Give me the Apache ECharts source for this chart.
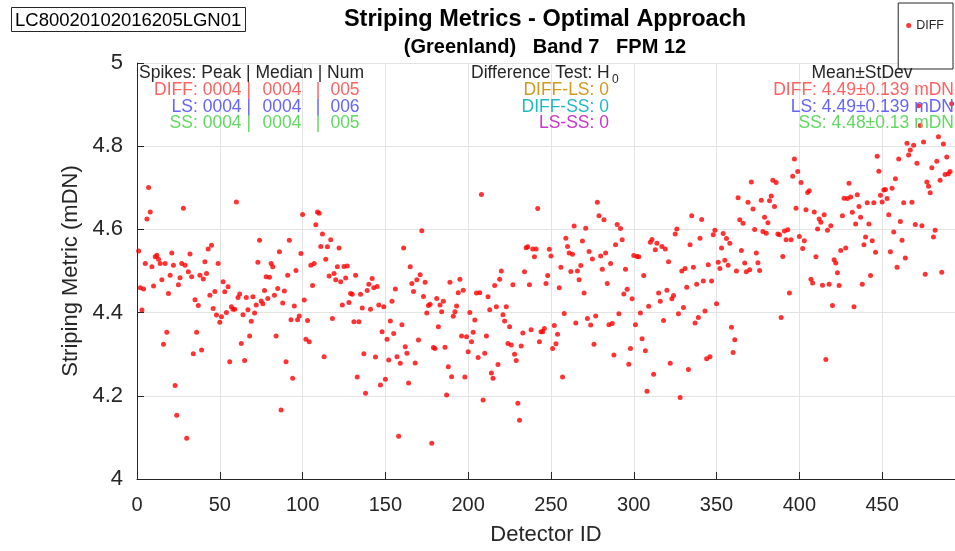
<!DOCTYPE html>
<html>
<head>
<meta charset="utf-8">
<title>Striping Metrics - Optimal Approach</title>
<script src="https://cdn.jsdelivr.net/npm/echarts@6.0.0/dist/echarts.min.js"></script>
<style>
    html, body { margin: 0; padding: 0; background: #fff; }
    #stripingChart { width: 955px; height: 551px; }
</style>
</head>
<body>
<div id="stripingChart"></div>
<script>
// striping metric per detector (DIFF), detector ids run 1..N
var diffMetric = [
    4.548,4.46,4.406,4.457,4.518,4.625,4.701,4.642,4.51,4.464,
    4.534,4.538,4.528,4.518,4.479,4.324,4.518,4.353,4.446,4.49,
    4.543,4.514,4.225,4.153,4.467,4.484,4.518,4.651,4.514,4.098,
    4.498,4.541,4.486,4.301,4.431,4.353,4.417,4.49,4.31,4.481,
    4.522,4.494,4.553,4.442,4.562,4.41,4.451,4.394,4.518,4.377,
    4.39,4.474,4.45,4.4,4.462,4.282,4.414,4.408,4.408,4.666,4.436,
    4.445,4.326,4.395,4.285,4.436,4.407,4.344,4.379,4.438,4.399,
    4.418,4.521,4.574,4.428,4.421,4.453,4.486,4.434,4.485,4.518,
    4.51,4.442,4.344,4.458,4.546,4.166,4.423,4.452,4.282,4.49,
    4.574,4.383,4.242,4.416,4.501,4.383,4.392,4.542,4.636,4.43,
    4.336,4.381,4.33,4.514,4.465,4.518,4.611,4.642,4.639,4.559,
    4.589,4.294,4.528,4.558,4.488,4.575,4.386,4.494,4.479,4.51,
    4.555,4.474,
    4.418,4.511,4.483,4.512,4.424,4.446,4.444,4.378,4.49,4.245,
    4.378,4.444,4.411,4.301,4.206,4.453,4.468,4.408,4.482,4.46,
    4.293,4.463,4.418,4.226,4.354,4.414,4.24,4.336,4.286,4.38,
    4.427,4.35,4.457,4.294,4.103,4.278,4.371,4.555,4.318,4.302,
    4.231,4.51,4.47,4.451,4.279,4.479,4.334,4.491,4.597,4.439,
    4.473,4.399,4.417,4.42,4.086,4.316,4.314,4.434,4.366,4.418,
    4.402,
    4.427,4.317,4.202,4.27,4.473,4.246,4.391,4.402,4.416,4.448,
    4.48,4.344,4.454,4.245,4.342,4.306,4.4,4.33,4.353,4.382,
    4.447,4.292,4.448,4.684,4.19,4.302,4.344,4.438,4.407,4.255,
    4.242,4.465,4.414,4.275,4.48,4.5,4.395,4.38,4.414,4.326,
    4.366,4.322,4.467,4.3,4.285,4.182,4.141,4.32,4.351,4.498,
    4.556,4.558,4.467,4.359,4.553,4.534,4.553,4.65,4.33,4.354,
    4.354,
    4.362,4.47,4.489,4.552,4.536,4.314,4.369,4.325,4.348,4.46,
    4.509,4.245,4.398,4.579,4.559,4.543,4.499,4.54,4.608,4.375,
    4.5,4.479,4.513,4.572,4.447,4.603,4.386,4.547,4.37,4.529,
    4.324,4.392,4.665,4.633,4.536,4.504,4.623,4.543,4.47,4.371,
    4.518,4.374,4.298,4.563,4.612,4.397,4.602,4.575,4.445,4.504,
    4.456,4.276,4.314,4.433,4.537,4.371,4.535,4.534,4.399,4.337,
    4.489,4.308,4.211,
    4.415,4.569,4.576,4.252,4.551,4.567,4.447,4.427,4.559,4.381,
    4.553,4.454,4.522,4.278,4.433,4.441,4.589,4.601,4.397,4.196,
    4.5,4.412,4.506,4.461,4.263,4.563,4.633,4.509,4.375,4.468,
    4.388,4.579,4.624,4.476,4.404,4.289,4.515,4.294,4.476,4.587,
    4.598,4.421,4.521,4.506,4.555,4.59,4.526,4.578,4.514,4.567,
    4.365,4.304,4.335,4.5,4.676,4.623,4.549,4.615,4.519,4.498,
    4.665,
    4.503,4.714,4.649,4.6,4.543,4.52,4.501,4.67,4.595,4.629,
    4.591,4.616,4.669,4.68,4.718,4.655,4.713,4.589,4.587,4.388,
    4.535,4.596,4.575,4.599,4.447,4.575,4.728,4.769,4.651,4.739,
    4.583,4.713,4.554,4.573,4.647,4.689,4.693,4.48,4.471,4.642,
    4.534,4.601,4.625,4.617,4.466,4.635,4.287,4.598,4.468,4.609,
    4.417,4.527,4.519,4.496,4.465,4.549,4.633,4.675,4.555,4.674,
    4.711,
    4.678,4.641,4.414,4.613,4.683,4.655,4.629,4.468,4.563,4.582,
    4.664,4.613,4.489,4.573,4.664,4.545,4.776,4.74,4.682,4.666,
    4.695,4.696,4.674,4.635,4.546,4.699,4.594,4.722,4.509,4.769,
    4.619,4.574,4.664,4.531,4.807,4.779,4.791,4.665,4.802,4.612,
    4.759,4.897,4.85,4.609,4.81,4.492,4.714,4.704,4.688,4.748,
    4.582,4.598,4.764,4.823,4.718,4.497,4.805,4.732,4.774,4.734,
    4.739,4.902
]

// annotation tables
var methodNames = ['DIFF', 'LS', 'SS']
var methodColors = ['#ff6161', '#6464ff', '#62d862']
var spikePeak = ['0004', '0004', '0004']
var spikeMedian = ['0004', '0004', '0004']
var spikeNum = ['005', '006', '005']
var h0Pairs = ['DIFF-LS', 'DIFF-SS', 'LS-SS']
var h0Values = [0, 0, 0]
var h0Colors = ['#d09a1c', '#1fb8c6', '#c936c9']
var meanValues = ['4.49', '4.49', '4.48']
var stdValues = ['0.139', '0.139', '0.13']

var FONT = '"Liberation Sans", Arial, Helvetica, sans-serif'
var TEXT_COLOR = '#262626'

function txt(x, y, text, color, align, size) {
    return {
        type: 'text',
        x: x,
        y: y,
        z: 100,
        silent: true,
        style: {
            text: text,
            fill: color,
            fontSize: size || 17.5,
            fontFamily: FONT,
            align: align || 'left',
            verticalAlign: 'middle'
        }
    }
}

var rowY = [90, 107, 123]
var graphics = []
graphics.push(txt(139, 73, 'Spikes: Peak | Median | Num', TEXT_COLOR, 'left'))
graphics.push(txt(471, 73, 'Difference Test: H', TEXT_COLOR, 'left'))
graphics.push(txt(612, 80, '0', TEXT_COLOR, 'left', 12))
graphics.push(txt(862, 73, 'Mean\u00b1StDev', TEXT_COLOR, 'center'))
methodNames.forEach(function (m, i) {
    var c = methodColors[i]
    graphics.push(txt(251, rowY[i], m + ': ' + spikePeak[i] + ' |', c, 'right'))
    graphics.push(txt(282, rowY[i], spikeMedian[i], c, 'center'))
    graphics.push(txt(318, rowY[i], '|', c, 'center'))
    graphics.push(txt(345, rowY[i], spikeNum[i], c, 'center'))
    graphics.push(txt(609, rowY[i], h0Pairs[i] + ': ' + h0Values[i], h0Colors[i], 'right'))
    graphics.push(txt(954, rowY[i], m + ': ' + meanValues[i] + '\u00b1' + stdValues[i] + ' mDN', c, 'right'))
})

var chart = echarts.init(document.getElementById('stripingChart'))
chart.setOption({
    animation: false,
    backgroundColor: '#fff',
    textStyle: { fontFamily: FONT },
    title: [
        {
            text: 'LC80020102016205LGN01',
            left: 11,
            top: 7,
            padding: [4, 4, 2, 4],
            borderWidth: 1,
            borderColor: TEXT_COLOR,
            textStyle: { fontSize: 18.5, fontWeight: 'normal', color: '#000', fontFamily: FONT }
        },
        {
            text: 'Striping Metrics - Optimal Approach',
            left: 545,
            top: 8,
            textAlign: 'center',
            padding: 0,
            textStyle: { fontSize: 23.5, fontWeight: 'bold', color: '#000', fontFamily: FONT }
        },
        {
            text: '(Greenland)   Band 7   FPM 12',
            left: 545,
            top: 37,
            textAlign: 'center',
            padding: 0,
            textStyle: { fontSize: 20, fontWeight: 'bold', color: '#000', fontFamily: FONT }
        }
    ],
    legend: {
        data: ['DIFF'],
        right: 2,
        top: 3,
        orient: 'vertical',
        icon: 'circle',
        itemWidth: 5,
        itemHeight: 5,
        padding: [16, 9, 37, 8],
        borderWidth: 1,
        borderColor: TEXT_COLOR,
        backgroundColor: '#fff',
        textStyle: { fontSize: 12.5, color: TEXT_COLOR, fontFamily: FONT }
    },
    grid: {
        left: 137,
        right: 0,
        top: 63,
        bottom: 69
    },
    xAxis: {
        type: 'value',
        min: 0,
        max: 494,
        interval: 50,
        name: 'Detector ID',
        nameLocation: 'middle',
        nameGap: 45,
        nameTextStyle: { fontSize: 22, color: TEXT_COLOR },
        axisLine: { show: true, lineStyle: { color: TEXT_COLOR } },
        axisTick: { inside: true, length: 7, lineStyle: { color: TEXT_COLOR } },
        axisLabel: { fontSize: 20, color: TEXT_COLOR, margin: 16, showMaxLabel: false },
        splitLine: { show: true, lineStyle: { color: '#e3e3e3' } }
    },
    yAxis: {
        type: 'value',
        min: 4,
        max: 5,
        interval: 0.2,
        name: 'Striping Metric (mDN)',
        nameLocation: 'middle',
        nameGap: 37,
        nameTextStyle: { fontSize: 22, color: TEXT_COLOR },
        axisLine: { show: true, lineStyle: { color: TEXT_COLOR } },
        axisTick: { show: true, inside: true, length: 7, lineStyle: { color: TEXT_COLOR } },
        axisLabel: { fontSize: 22, color: TEXT_COLOR, margin: 14 },
        splitLine: { show: true, lineStyle: { color: '#e3e3e3' } }
    },
    series: [
        {
            name: 'DIFF',
            type: 'scatter',
            symbol: 'circle',
            symbolSize: 5,
            itemStyle: { color: '#ff0000' },
            data: diffMetric.map(function (v, i) { return [i + 1, v] })
        }
    ],
    graphic: graphics
})
</script>
</body>
</html>
